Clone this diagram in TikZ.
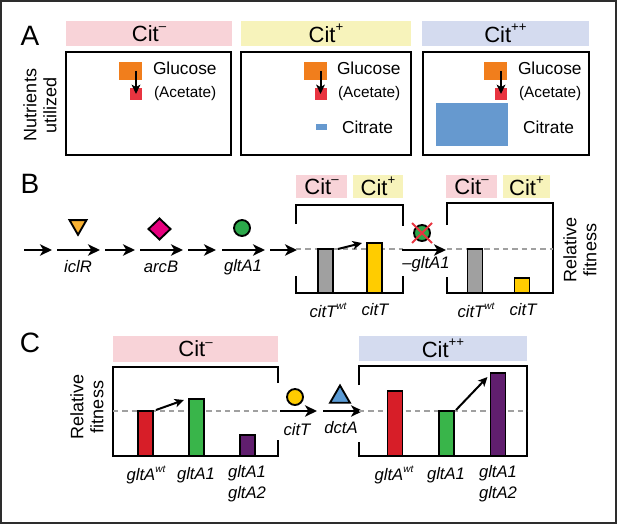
\documentclass[tikz,border=0pt]{standalone}
\usepackage{fontspec}
\setmainfont{Liberation Sans}
\usetikzlibrary{arrows.meta,positioning,shapes.geometric,calc}
\newdimen\pxu
\pxu=0.75pt
\definecolor{citminus}{RGB}{248,211,216}
\definecolor{citplus}{RGB}{247,243,187}
\definecolor{citpp}{RGB}{212,219,239}
\definecolor{glucol}{RGB}{241,126,28}
\definecolor{actcol}{RGB}{232,52,64}
\definecolor{citcol}{RGB}{102,153,207}
\definecolor{icltri}{RGB}{249,178,51}
\definecolor{arcdia}{RGB}{230,0,126}
\definecolor{gltcirc}{RGB}{43,168,74}
\definecolor{wtgrey}{RGB}{160,160,160}
\definecolor{citgold}{RGB}{255,204,0}
\definecolor{barred}{RGB}{215,30,40}
\definecolor{bargreen}{RGB}{57,181,74}
\definecolor{barpurple}{RGB}{96,30,110}
\definecolor{dctblue}{RGB}{91,155,213}
\definecolor{framecol}{RGB}{45,45,45}
\newcommand\supr[1]{\raisebox{0.9ex}{\scalebox{0.6}{#1}}}
\newcommand\hdrfont{\fontsize{16.5}{18}\selectfont}
\newcommand\genfont{\fontsize{12.5}{15}\selectfont\itshape}
\tikzset{>={Stealth[length=9pt,width=8.5pt,inset=2.5pt]}}
\tikzset{
  every node/.style={inner sep=0pt, outer sep=0pt},
  panel/.style={font=\fontsize{21}{24}\selectfont},
  hdrbox/.style={font=\hdrfont, minimum height=25\pxu},
  nbox/.style={draw, line width=1.8pt},
  boxline/.style={line width=1.8pt},
  fitline/.style={line width=1.1pt, wtgrey, dash pattern=on 4pt off 3pt},
  bar/.style={draw, line width=1.4pt, minimum width=15\pxu, anchor=south},
  sym/.style={draw, line width=1.4pt},
  pathway/.style={line width=2.1pt},
  smallarrow/.style={line width=1.5pt, -{Stealth[length=7pt,width=6.5pt,inset=1.8pt]}},
  genelab/.style={font=\genfont, align=center},
  nutlab/.style={font=\fontsize{13}{15}\selectfont, anchor=west},
  actlab/.style={font=\fontsize{11.5}{14}\selectfont, anchor=west},
  ylab/.style={font=\fontsize{13.5}{15}\selectfont, align=center, rotate=90}
}
\begin{document}
\begin{tikzpicture}[x=0.75pt, y=-0.75pt]
  \useasboundingbox (0,0) rectangle (617,524);
  \draw[line width=1.2pt, framecol] (1,1) rectangle (616,523);

  % A: nutrients utilized
  \node[panel] (pA) at (30,36) {A};
  \node[hdrbox, fill=citminus, minimum width=166\pxu] (hAm) at (149,33.5) {Cit\supr{--}};
  \node[hdrbox, fill=citplus, minimum width=170\pxu] (hAp) at (326,33.5) {Cit\supr{+}};
  \node[hdrbox, fill=citpp, minimum width=167\pxu] (hApp) at (505.5,33.5) {Cit\supr{++}};
  \node[nbox, minimum width=165\pxu, minimum height=103\pxu] (bAm) at (148.5,103.5) {};
  \node[nbox, minimum width=170\pxu, minimum height=103\pxu] (bAp) at (326,103.5) {};
  \node[nbox, minimum width=166\pxu, minimum height=103\pxu] (bApp) at (506,103.5) {};
  \node[ylab] (nut) at (40,105) {Nutrients\\utilized};
  \foreach \gx/\tx/\n in {130.5/153/m, 315/337/p, 495.5/518/pp} {
    \node[fill=glucol, minimum width=23\pxu, minimum height=18\pxu] (glc\n) at (\gx,71) {};
    \node[fill=actcol, minimum width=12\pxu, minimum height=12\pxu] (act\n) at (\gx+5.5,94) {};
    \draw[smallarrow] (act\n |- glc\n.center) -- (act\n.center);
    \node[nutlab] (glctxt\n) at (\tx,68) {Glucose};
    \node[actlab] (acttxt\n) at (\tx+1,94) {(Acetate)};
  }
  \node[fill=citcol, minimum width=11\pxu, minimum height=6\pxu] (citp) at (321.5,127) {};
  \node[nutlab] (cittxtp) at (342,127) {Citrate};
  \node[fill=citcol, minimum width=72\pxu, minimum height=43\pxu] (citpp) at (472,124.5) {};
  \node[nutlab] (cittxtpp) at (523,127) {Citrate};

  % B: pathway to Cit+
  \node[panel] (pB) at (30,184) {B};
  \foreach \n/\x in {0/24, 1/52, 2/57, 3/100, 4/105, 5/135, 6/140, 7/183,
                     8/188, 9/216, 10/222, 11/265, 12/270, 13/297}
    \coordinate (p\n) at (\x,250);
  \foreach \a/\b in {0/1, 2/3, 4/5, 6/7, 8/9, 10/11, 12/13}
    \draw[pathway, ->] (p\a) -- (p\b);
  \node[genelab] (iclR) at (78,267) {iclR};
  \node[genelab] (arcB) at (161,267) {arcB};
  \node[genelab] (gltA) at (243,267) {gltA1};
  \node[sym, fill=icltri, regular polygon, regular polygon sides=3, shape border rotate=180,
        minimum size=19.6\pxu] (iclsym) at (78,225) {};
  \node[sym, fill=arcdia, diamond, minimum width=22\pxu, minimum height=21\pxu] (arcsym) at (159.5,229) {};
  \node[sym, fill=gltcirc, circle, minimum size=16\pxu] (gltsym) at (242,228) {};

  \node[hdrbox, fill=citminus, minimum width=51\pxu, minimum height=23\pxu] (hBm) at (321.5,186.5) {Cit\supr{--}};
  \node[hdrbox, fill=citplus, minimum width=50\pxu, minimum height=23\pxu] (hBp) at (378,186.5) {Cit\supr{+}};
  \draw[boxline] (296,224) |- (403,205) -- (403,226);
  \draw[boxline] (296,276) |- (403,293) -- (403,276);
  \draw[fitline] (296,249) -- (403,249);
  \node[bar, fill=wtgrey, minimum height=44\pxu] (wtB) at (325.5,293) {};
  \node[bar, fill=citgold, minimum height=50\pxu] (ctB) at (374.5,293) {};
  \draw[smallarrow] ($(wtB.north east)+(5,0)$) -- ($(ctB.north west)+(-5,0)$);
  \node[genelab] (wtBl) at (328,310) {citT\supr{wt}};
  \node[genelab] (ctBl) at (375,310) {citT};

  \coordinate (k0) at (402,250);
  \coordinate (k1) at (446,250);
  \draw[pathway, ->] (k0) -- (k1);
  \node[genelab] (ko) at (426,264) {--gltA1};
  \node[sym, fill=gltcirc, circle, minimum size=16\pxu] (kosym) at (422,233) {};
  \draw[line width=1.4pt, actcol] ($(kosym)+(-10,-10)$) -- ($(kosym)+(10,10)$);
  \draw[line width=1.4pt, actcol] ($(kosym)+(10,-10)$) -- ($(kosym)+(-10,10)$);

  \node[hdrbox, fill=citminus, minimum width=51\pxu, minimum height=23\pxu] (hKm) at (471.5,186.5) {Cit\supr{--}};
  \node[hdrbox, fill=citplus, minimum width=47\pxu, minimum height=23\pxu] (hKp) at (526.5,186.5) {Cit\supr{+}};
  \draw[boxline] (447,225) |- (553,203) -- (553,293) -| (447,277);
  \draw[fitline] (447,249) -- (553,249);
  \node[bar, fill=wtgrey, minimum height=44\pxu] (wtK) at (475,293) {};
  \node[bar, fill=citgold, minimum height=15\pxu] (ctK) at (522,293) {};
  \node[genelab] (wtKl) at (476,310) {citT\supr{wt}};
  \node[genelab] (ctKl) at (523,310) {citT};
  \node[ylab] (fitB) at (580,250) {Relative\\fitness};

  % C: Cit- to Cit++
  \node[panel] (pC) at (30,343) {C};
  \node[hdrbox, fill=citminus, minimum width=165\pxu, minimum height=26\pxu] (hCm) at (195.5,349) {Cit\supr{--}};
  \draw[boxline] (278,383) |- (113,367) |- (278,456) -- (278,440);
  \draw[fitline] (113,411) -- (278,411);
  \node[bar, fill=barred, minimum height=45\pxu] (wtC) at (145.5,456) {};
  \node[bar, fill=bargreen, minimum height=57\pxu] (g1C) at (196.5,456) {};
  \node[bar, fill=barpurple, minimum height=21\pxu] (g2C) at (247.5,456) {};
  \draw[smallarrow] ($(wtC.north east)+(3,-1)$) -- ($(g1C.north west)+(-5,1)$);
  \node[genelab] (wtCl) at (146,475) {gltA\supr{wt}};
  \node[genelab] (g1Cl) at (196,475) {gltA1};
  \node[genelab] (g2Cl) at (247,484) {gltA1\\[1pt]gltA2};
  \node[ylab] (fitC) at (87,407) {Relative\\fitness};

  \coordinate (c0) at (280,411);
  \coordinate (c1) at (317,411);
  \coordinate (c2) at (323,411);
  \coordinate (c3) at (363,411);
  \draw[pathway, ->] (c0) -- (c1);
  \draw[pathway, ->] (c2) -- (c3);
  \node[sym, fill=citgold, circle, minimum size=16\pxu] (citsym) at (295,397) {};
  \node[sym, fill=dctblue, regular polygon, regular polygon sides=3, minimum size=23\pxu] (dctsym) at (340,397) {};
  \node[genelab] (citTl) at (297,430) {citT};
  \node[genelab] (dctAl) at (341,428) {dctA};

  \node[hdrbox, fill=citpp, minimum width=168\pxu, minimum height=25\pxu] (hCpp) at (443,348.5) {Cit\supr{++}};
  \draw[boxline] (359,385) |- (527,366) -- (527,456) -| (359,442);
  \draw[fitline] (359,411) -- (527,411);
  \node[bar, fill=barred, minimum height=65\pxu] (wtD) at (395,456) {};
  \node[bar, fill=bargreen, minimum height=45\pxu] (g1D) at (446.5,456) {};
  \node[bar, fill=barpurple, minimum height=83\pxu] (g2D) at (498,456) {};
  \draw[smallarrow] ($(g1D.north east)+(2,-1)$) -- ($(g2D.north west)+(-3,4)$);
  \node[genelab] (wtDl) at (394,475) {gltA\supr{wt}};
  \node[genelab] (g1Dl) at (446,475) {gltA1};
  \node[genelab] (g2Dl) at (498,484) {gltA1\\[1pt]gltA2};
\end{tikzpicture}
\end{document}
